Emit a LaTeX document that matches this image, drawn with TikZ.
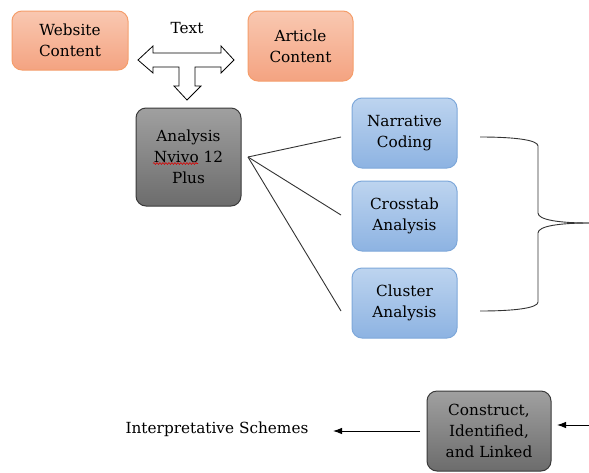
\documentclass[tikz,border=0pt]{standalone}
\usepackage{fontspec}
\setmainfont{DejaVu Serif}
\usetikzlibrary{arrows.meta,decorations.pathmorphing}
\definecolor{orTop}{HTML}{F9C8B1}
\definecolor{orBot}{HTML}{F4A381}
\definecolor{orLine}{HTML}{F59E6B}
\definecolor{blTop}{HTML}{BDD4EF}
\definecolor{blBot}{HTML}{8DB3E2}
\definecolor{blLine}{HTML}{7EA8DA}
\definecolor{gyTop}{HTML}{A0A0A0}
\definecolor{gyBot}{HTML}{6C6C6C}
\definecolor{gyLine}{HTML}{3A3A3A}
\tikzset{
  box/.style={rounded corners=10pt, align=center, font=\fontsize{15.3}{20.8}\selectfont, inner sep=0pt, line width=1pt},
  orbox/.style={box, draw=orLine, top color=orTop, bottom color=orBot},
  blbox/.style={box, draw=blLine, top color=blTop, bottom color=blBot},
  gybox/.style={box, draw=gyLine, top color=gyTop, bottom color=gyBot},
  plain/.style={font=\fontsize{15.3}{20.8}\selectfont, inner sep=0pt},
  conn/.style={draw=black!80, line width=0.9pt},
  arr/.style={draw=black, line width=0.9pt, -{Latex[length=9pt,width=6.5pt]}}
}
\begin{document}
\begin{tikzpicture}[x=1pt,y=-1pt]
\useasboundingbox[fill=white] (0,0) rectangle (589,472);
% boxes
\node[orbox, minimum width=116pt, minimum height=59pt] (web) at (70,40.5) {Website\\Content};
\node[orbox, minimum width=105pt, minimum height=70pt] (art) at (300.5,46) {Article\\Content};
\node[plain] (txt) at (187,28) {Text};
\node[gybox, minimum width=105pt, minimum height=98pt] (ana) at (188.5,157) {Analysis\\Nvivo 12\\Plus};
\node[blbox, minimum width=105pt, minimum height=70pt] (nar) at (404.5,133) {Narrative\\Coding};
\node[blbox, minimum width=105pt, minimum height=70pt] (cro) at (404.5,216) {Crosstab\\Analysis};
\node[blbox, minimum width=105pt, minimum height=70pt] (clu) at (404.5,303) {Cluster\\Analysis};
\node[gybox, minimum width=124pt, minimum height=80pt] (con) at (489,431) {Construct,\\Identified,\\and Linked};
\node[plain] (int) at (217,429) {Interpretative Schemes};
% spell-check squiggle
\draw[red!85!black, line width=0.6pt, decorate, decoration={snake, amplitude=0.9pt, segment length=3pt}] (153,163.5) -- (198,163.5);
% block arrow
\draw[line width=0.8pt, fill=white, line join=miter]
 (138,60) -- (153,46) -- (153,53) -- (221,53) -- (221,46) -- (234,60) -- (221,73) -- (221,67)
 -- (195,67) -- (195,86) -- (201,86) -- (187,100) -- (174,86) -- (179,86) -- (179,67)
 -- (153,67) -- (153,73) -- cycle;
% fan lines
\coordinate (fan) at (248,157);
\coordinate (e1) at (341,137);
\coordinate (e2) at (341,215);
\coordinate (e3) at (341,311);
\draw[conn] (fan) -- (e1);
\draw[conn] (fan) -- (e2);
\draw[conn] (fan) -- (e3);
% brace
\coordinate (bt) at (480,137);
\coordinate (bb) at (480,311);
\coordinate (tip) at (589,223);
\draw[conn] (bt) .. controls (515,137) and (538,140) .. (538,146)
  -- (538,213) .. controls (538,220) and (560,223) .. (tip);
\draw[conn] (bb) .. controls (515,311) and (538,308) .. (538,302)
  -- (538,233) .. controls (538,226) and (560,223) .. (tip);
% arrows
\coordinate (rin) at (589,425);
\coordinate (rend) at (557,425);
\coordinate (lstart) at (420,431);
\coordinate (lend) at (333,431);
\draw[arr] (rin) -- (rend);
\draw[arr] (lstart) -- (lend);
\end{tikzpicture}
\end{document}
